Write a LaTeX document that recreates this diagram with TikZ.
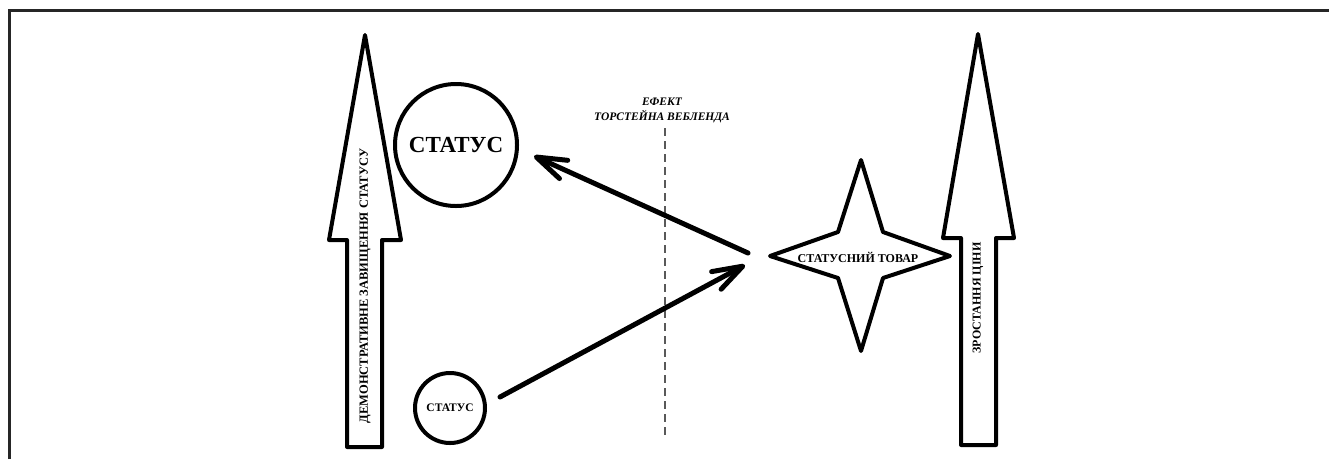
\documentclass[tikz,border=0pt]{standalone}
\usepackage{fontspec}
\setmainfont{Liberation Serif}
\usetikzlibrary{arrows.meta}
\begin{document}
\begin{tikzpicture}[x=1pt,y=-1pt,
  blockarrow/.style={draw=black,line width=4pt,line join=round,fill=white},
  ring/.style={circle,draw=black,line width=4pt,inner sep=0pt,font=\bfseries},
  conn/.style={line width=5pt,line cap=round,-{Straight Barb[length=30pt,width=20pt,line width=5pt,round]}},
  vlabel/.style={rotate=90,inner sep=0pt},
  guide/.style={draw=black!65,line width=1.5pt,dash pattern=on 8pt off 5pt}]
\useasboundingbox (0,0) rectangle (1329,459);
% frame
\draw[line width=3pt,draw=black!85] (9,459) -- (9,10) -- (1329,10);
% left block arrow
\draw[blockarrow] (365,35) -- (401,240) -- (382,240) -- (382,447) -- (347,447) -- (347,240) -- (329,240) -- cycle;
\node[vlabel,font=\bfseries\fontsize{12.5}{14}\selectfont] (demo) at (365,286) {ДЕМОНСТРАТИВНЕ ЗАВИЩЕННЯ СТАТУСУ};
% right block arrow
\draw[blockarrow] (978,34) -- (1014,238) -- (996,238) -- (996,445) -- (961,445) -- (961,238) -- (943,238) -- cycle;
\node[vlabel,font=\bfseries\fontsize{12}{14}\selectfont] (price) at (978,298) {ЗРОСТАННЯ ЦІНИ};
% circles
\node[ring,minimum size=122pt,font=\bfseries\fontsize{23}{26}\selectfont] (big) at (456,145) {СТАТУС};
\node[ring,minimum size=70pt,font=\bfseries\fontsize{11.5}{14}\selectfont] (small) at (450,408) {СТАТУС};
% star
\draw[blockarrow] (861,160) -- (883,232) -- (950,256) -- (883,278) -- (861,351) -- (838,278) -- (770,256) -- (838,232) -- cycle;
\node[font=\bfseries\fontsize{12}{14}\selectfont,inner sep=0pt] (good) at (858,257) {СТАТУСНИЙ ТОВАР};
% dashed guide and label
\coordinate (gtop) at (665,128);
\coordinate (gbot) at (665,437);
\draw[guide] (gtop) -- (gbot);
\node[font=\bfseries\itshape\fontsize{11.5}{15}\selectfont,align=center,inner sep=0pt] (veblen) at (662,110) {ЕФЕКТ\\ТОРСТЕЙНА ВЕБЛЕНДА};
% connectors
\coordinate (s1) at (748,253);
\coordinate (t1) at (534,156);
\coordinate (s2) at (500,397);
\coordinate (t2) at (745,265);
\draw[conn] (s1) -- (t1);
\draw[conn] (s2) -- (t2);
\end{tikzpicture}
\end{document}
